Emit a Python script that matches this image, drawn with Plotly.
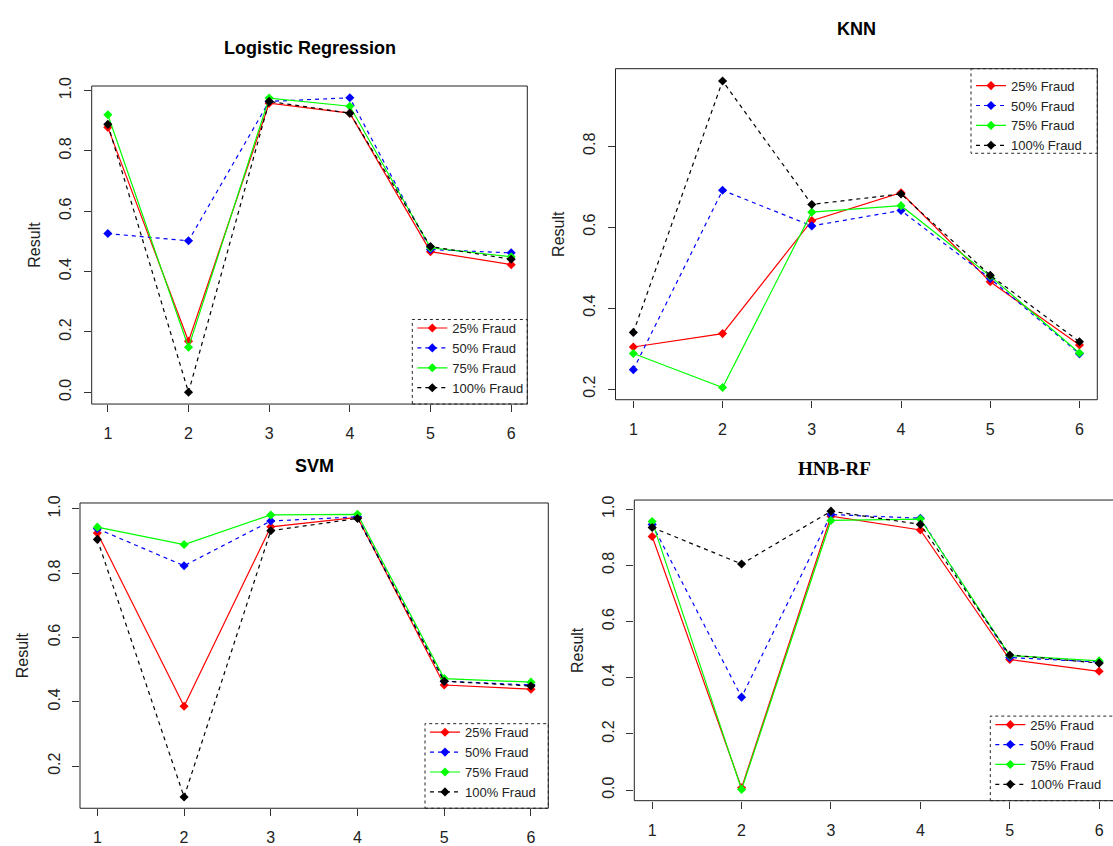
import plotly.graph_objects as go

W, H = 1113, 846

# ---------------- data ----------------
x_steps = [1, 2, 3, 4, 5, 6]
series_names = ["25% Fraud", "50% Fraud", "75% Fraud", "100% Fraud"]

lr_25 = [0.878, 0.169, 0.958, 0.925, 0.466, 0.423]
lr_50 = [0.526, 0.502, 0.964, 0.976, 0.473, 0.462]
lr_75 = [0.920, 0.149, 0.975, 0.948, 0.479, 0.449]
lr_100 = [0.888, 0.000, 0.964, 0.925, 0.483, 0.441]

knn_25 = [0.304, 0.337, 0.616, 0.685, 0.465, 0.309]
knn_50 = [0.248, 0.691, 0.603, 0.641, 0.473, 0.287]
knn_75 = [0.288, 0.204, 0.637, 0.653, 0.479, 0.289]
knn_100 = [0.340, 0.961, 0.656, 0.682, 0.481, 0.317]

svm_25 = [0.925, 0.386, 0.944, 0.973, 0.452, 0.439]
svm_50 = [0.938, 0.823, 0.962, 0.975, 0.464, 0.452]
svm_75 = [0.943, 0.889, 0.981, 0.983, 0.472, 0.461]
svm_100 = [0.905, 0.104, 0.932, 0.970, 0.464, 0.449]

hnb_25 = [0.903, 0.008, 0.975, 0.926, 0.465, 0.423]
hnb_50 = [0.946, 0.331, 0.981, 0.968, 0.472, 0.456]
hnb_75 = [0.956, 0.002, 0.960, 0.965, 0.479, 0.460]
hnb_100 = [0.935, 0.805, 0.993, 0.946, 0.481, 0.452]

lr_yticks = [0.0, 0.2, 0.4, 0.6, 0.8, 1.0]
knn_yticks = [0.2, 0.4, 0.6, 0.8]
svm_yticks = [0.2, 0.4, 0.6, 0.8, 1.0]
hnb_yticks = [0.0, 0.2, 0.4, 0.6, 0.8, 1.0]

# ---------------- styles ----------------
colors = ["#FF0000", "#0000FF", "#00FF00", "#000000"]
dashes = ["solid", "4px,4px", "solid", "4px,4px"]

SANS = "Liberation Sans, Arial, sans-serif"
SERIF = "Liberation Serif, Times New Roman, serif"

# box: (left, top, right, bottom) in px; legend: (left, anchored edge)
panels = [
    dict(title="Logistic Regression", series=[lr_25, lr_50, lr_75, lr_100], yticks=lr_yticks,
         box=(91.7, 78.3, 527.3, 401.7), tpos=(309.5, 40), tfont=SANS,
         leg=(412.3, "bottom")),
    dict(title="KNN", series=[knn_25, knn_50, knn_75, knn_100], yticks=knn_yticks,
         box=(615.5, 60.7, 1097.3, 397.3), tpos=(856.4, 20), tfont=SANS,
         leg=(971.0, "top")),
    dict(title="SVM", series=[svm_25, svm_50, svm_75, svm_100], yticks=svm_yticks,
         box=(80.0, 502.3, 548.3, 812.7), tpos=(314.0, 465), tfont=SANS,
         leg=(425.0, "bottom")),
    dict(title="HNB-RF", series=[hnb_25, hnb_50, hnb_75, hnb_100], yticks=hnb_yticks,
         box=(634.3, 499.3, 1117.0, 805.0), tpos=(834.0, 467), tfont=SERIF,
         leg=(990.3, "bottom")),
]

LEG_H = 86  # height of the dotted legend frame, px

def px(xp):
    return xp / W

def py(yp):
    return 1 - yp / H

fig = go.Figure()
layout = dict(
    width=W, height=H, margin=dict(l=0, r=0, t=0, b=0),
    paper_bgcolor="white", plot_bgcolor="white",
    font=dict(family=SANS, color="#222"),
    shapes=[], annotations=[],
)

for i, p in enumerate(panels):
    k = "" if i == 0 else str(i + 1)
    L, T, R, B = p["box"]
    Rv = min(R, W)
    # R-style axis extents: data range extended by 4%
    xlo = min(x_steps) - 0.04 * (max(x_steps) - min(x_steps))
    xhi = max(x_steps) + 0.04 * (max(x_steps) - min(x_steps))
    xhi_vis = xlo + (xhi - xlo) * (Rv - L) / (R - L)
    allv = [v for s in p["series"] for v in s]
    ylo = min(allv) - 0.04 * (max(allv) - min(allv))
    yhi = max(allv) + 0.04 * (max(allv) - min(allv))

    for j, (name, vals) in enumerate(zip(series_names, p["series"])):
        fig.add_trace(go.Scatter(
            x=x_steps, y=vals, name=name, mode="lines+markers",
            line=dict(color=colors[j], width=1.2, dash=dashes[j]),
            marker=dict(symbol="diamond", size=7, color=colors[j]),
            xaxis="x" + k, yaxis="y" + k, legend="legend" + k,
            showlegend=True,
        ))

    layout["xaxis" + k] = dict(
        domain=[px(L), px(Rv)], anchor="y" + k, range=[xlo, xhi_vis],
        tickvals=x_steps, ticks="outside", ticklen=7, tickcolor="#333",
        showline=False, showgrid=False, zeroline=False,
        tickfont=dict(size=16, color="#222"), ticklabelstandoff=8,
    )
    layout["yaxis" + k] = dict(
        domain=[py(B), py(T)], anchor="x" + k, range=[ylo, yhi],
        tickvals=p["yticks"], tickformat=".1f", tickangle=-90,
        ticks="outside", ticklen=7, tickcolor="#333",
        showline=False, showgrid=False, zeroline=False,
        tickfont=dict(size=16, color="#222"), ticklabelstandoff=6,
        title=dict(text="Result", font=dict(size=16, color="#222"), standoff=12),
    )
    # plot frame
    layout["shapes"].append(dict(type="rect", xref="paper", yref="paper",
                                 x0=px(L), x1=px(R), y0=py(B), y1=py(T),
                                 line=dict(color="#222", width=1)))
    # title
    layout["annotations"].append(dict(text="<b>" + p["title"] + "</b>", xref="paper", yref="paper",
                                      x=px(p["tpos"][0]), y=py(p["tpos"][1]),
                                      xanchor="center", yanchor="middle", showarrow=False,
                                      font=dict(family=p["tfont"], size=18 if p["tfont"] == SANS else 19,
                                                color="#000")))
    # legend
    lx, anchor = p["leg"]
    if anchor == "bottom":
        ly = B - 1
        y0, y1 = B, B - LEG_H
    else:
        ly = T + 2
        y0, y1 = T, T + LEG_H
    layout["legend" + k] = dict(
        x=px(lx), y=py(ly), xanchor="left", yanchor=anchor,
        xref="paper", yref="paper",
        bgcolor="rgba(0,0,0,0)", borderwidth=0,
        font=dict(size=13, color="#222"),
    )
    layout["shapes"].append(dict(type="rect", xref="paper", yref="paper",
                                 x0=px(lx), x1=px(R), y0=py(y0), y1=py(y1),
                                 line=dict(color="#222", width=1, dash="dot")))

fig.update_layout(**layout)
fig.write_html("out.html",
               config={"displayModeBar": False},
               post_script="document.body.style.margin='0';document.body.style.overflow='hidden';")
